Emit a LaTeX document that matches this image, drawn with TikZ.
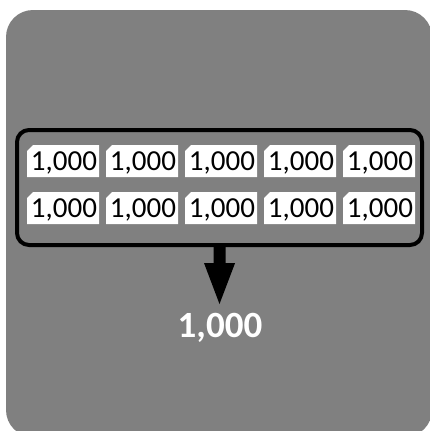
\documentclass[tikz,border=0pt]{standalone}
\usepackage{fontspec}
\setmainfont{Carlito}
\definecolor{panelgray}{HTML}{808080}
\begin{document}
\begin{tikzpicture}[x=1pt,y=-1pt,
  cell/.style={fill=white, draw=none, inner sep=0pt, text=black, font=\fontsize{29}{29}\selectfont},
  group/.style={draw=black, line width=4pt, rounded corners=12pt},
  bigarrow/.style={fill=black, draw=none},
  result/.style={text=white, font=\fontsize{37}{37}\selectfont\bfseries, inner sep=0pt}]
\useasboundingbox (0,0) rectangle (430,431);
\begin{scope}
\clip (0,0) rectangle (430,431);
\fill[panelgray, rounded corners=27pt] (6,10) rectangle (432,437);
\end{scope}
% group box
\draw[group] (17,130) rectangle (422,245);
\node (box) at (219.5,187.5) [minimum width=405pt, minimum height=115pt, inner sep=0pt] {};
% cells
\foreach \r/\y in {1/145, 2/192} {
  \foreach \c in {0,...,4} {
    \pgfmathsetmacro{\xl}{27+79*\c}
    \pgfmathsetmacro{\xr}{\xl+72}
    \pgfmathsetmacro{\yb}{\y+32}
    \fill[white] (\xl,\y+6) -- (\xl+6,\y) -- (\xr,\y) -- (\xr,\yb) -- (\xl,\yb) -- cycle;
    \node[cell] (c\r\c) at ({\xl+37},{\y+17.5}) {1,000};
  }
}
% arrow
\coordinate (tip) at (219.5,304);
\fill[bigarrow] (box.south) ++(-6,0) -- ++(12,0) -- ++(0,18) -- ++(9.5,0) -- (tip) -- (204,263) -- (213.5,263) -- cycle;
\node[result] (res) at (220,328) {1,000};
\end{tikzpicture}
\end{document}
